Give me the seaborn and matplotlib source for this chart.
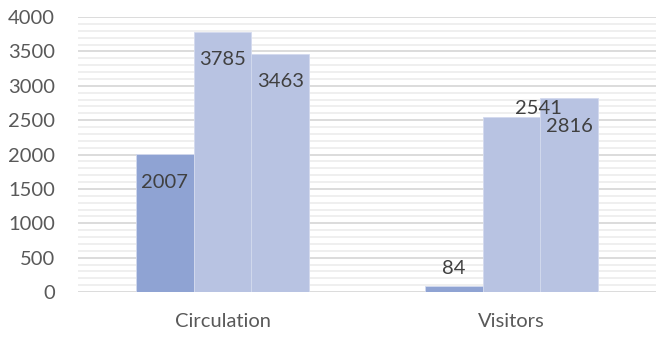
import pandas as pd
import seaborn as sns
import matplotlib.pyplot as plt
from matplotlib.ticker import MultipleLocator

# data
categories = ["Circulation", "Visitors"]
series_names = ["Series 1", "Series 2", "Series 3"]
series_1 = [2007, 84]
series_2 = [3785, 2541]
series_3 = [3463, 2816]

rows = []
for name, vals in zip(series_names, [series_1, series_2, series_3]):
    for cat, v in zip(categories, vals):
        rows.append({"category": cat, "series": name, "value": v})
df = pd.DataFrame(rows)

sns.set_style("white")
plt.rcParams["font.family"] = ["Lato", "DejaVu Sans"]

fig = plt.figure(figsize=(6.56, 3.39), dpi=100)
ax = fig.add_axes([0.119, 0.1386, 0.881, 0.8112])

palette = {"Series 1": "#8FA3D3", "Series 2": "#B8C3E2", "Series 3": "#B8C3E2"}
sns.barplot(data=df, x="category", y="value", hue="series", order=categories,
            hue_order=series_names, palette=palette, width=0.6, gap=0,
            edgecolor="#D3DAEE", linewidth=0.6, saturation=1, legend=False, ax=ax)

ax.set_ylim(0, 4000)
ax.yaxis.set_major_locator(MultipleLocator(500))
ax.yaxis.set_minor_locator(MultipleLocator(100))
ax.grid(axis="y", which="minor", color="#EEEEEE", linewidth=1.3)
ax.grid(axis="y", which="major", color="#D9D9D9", linewidth=1.3)
ax.set_axisbelow(True)
for s in ax.spines.values():
    s.set_visible(False)

ax.set_xlabel("")
ax.set_ylabel("")
ax.tick_params(axis="y", which="both", length=0, pad=16.5, labelsize=14.5, labelcolor="#595959")
ax.tick_params(axis="x", length=0, pad=15, labelsize=14.5, labelcolor="#595959")

# data labels: inside end, a few moved by hand as in the original
moved = {84: (0, 18), 2541: (27, 9)}
for cont in ax.containers:
    for bar in cont:
        v = int(round(bar.get_height()))
        dx, dy = moved.get(v, (0, -28))
        ax.annotate(str(v), (bar.get_x() + bar.get_width() / 2, v),
                    xytext=(dx, dy), textcoords="offset pixels",
                    ha="center", va="center", fontsize=14.5, color="#404040")

fig.savefig("out.png", dpi=100)
